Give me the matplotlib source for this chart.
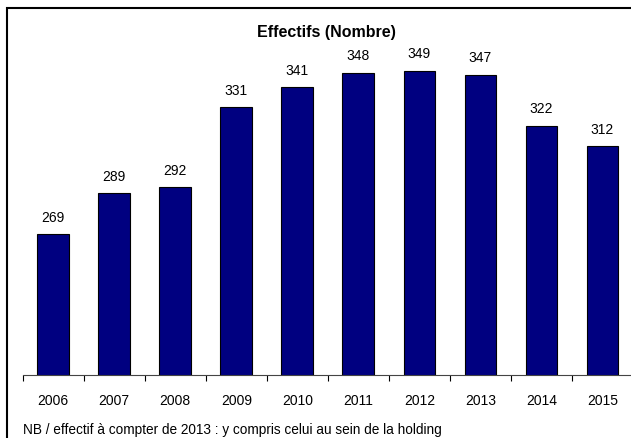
import numpy as np
import matplotlib
matplotlib.use('Agg')
import matplotlib.pyplot as plt
from matplotlib.patches import Rectangle

# Donnees
annees = ['2006', '2007', '2008', '2009', '2010', '2011', '2012', '2013', '2014', '2015']
effectifs = [269, 289, 292, 331, 341, 348, 349, 347, 322, 312]

plt.rcParams['font.family'] = ['Liberation Sans', 'DejaVu Sans']

W, H = 631, 439
fig = plt.figure(figsize=(W / 100, H / 100), dpi=100)

# cadre autour du graphique (coupe a droite et en bas)
fig.patches.append(Rectangle((7 / W, -0.1), 1.2, (H - 9) / H + 0.1,
                             transform=fig.transFigure, fill=False,
                             edgecolor='black', linewidth=1.5))

ax = fig.add_axes([22.7 / W, (H - 375.7) / H, (633 - 22.7) / W, (375.7 - 49.3) / H])

x = np.arange(len(annees))
ax.bar(x, effectifs, width=0.52, color='#000080', edgecolor='black', linewidth=0.8)
ax.set_xlim(-0.5, len(annees) - 0.5)
ax.set_ylim(200, 360)

for xi, v in zip(x, effectifs):
    ax.text(xi, v + 8.5, str(v), ha='center', va='center', fontsize=10)

# graduations entre les categories, libelles au centre
ax.set_xticks(np.arange(-0.5, len(annees), 1.0))
ax.set_xticklabels([])
ax.tick_params(axis='x', which='major', length=4, width=0.8, direction='out')
ax.set_xticks(x, minor=True)
ax.set_xticklabels(annees, minor=True, fontsize=10)
ax.tick_params(axis='x', which='minor', length=0, pad=13)
ax.set_yticks([])

for s in ['top', 'right', 'left']:
    ax.spines[s].set_visible(False)
ax.spines['bottom'].set_linewidth(0.8)
ax.spines['bottom'].set_color('#444444')

fig.text(326 / W, (H - 33) / H, 'Effectifs (Nombre)', ha='center', va='center',
         fontsize=11.5, fontweight='bold')
fig.text(22.7 / W, (H - 430) / H, 'NB / effectif à compter de 2013 : y compris celui au sein de la holding',
         ha='left', va='center', fontsize=9.8)

fig.savefig('out.png', dpi=100)
